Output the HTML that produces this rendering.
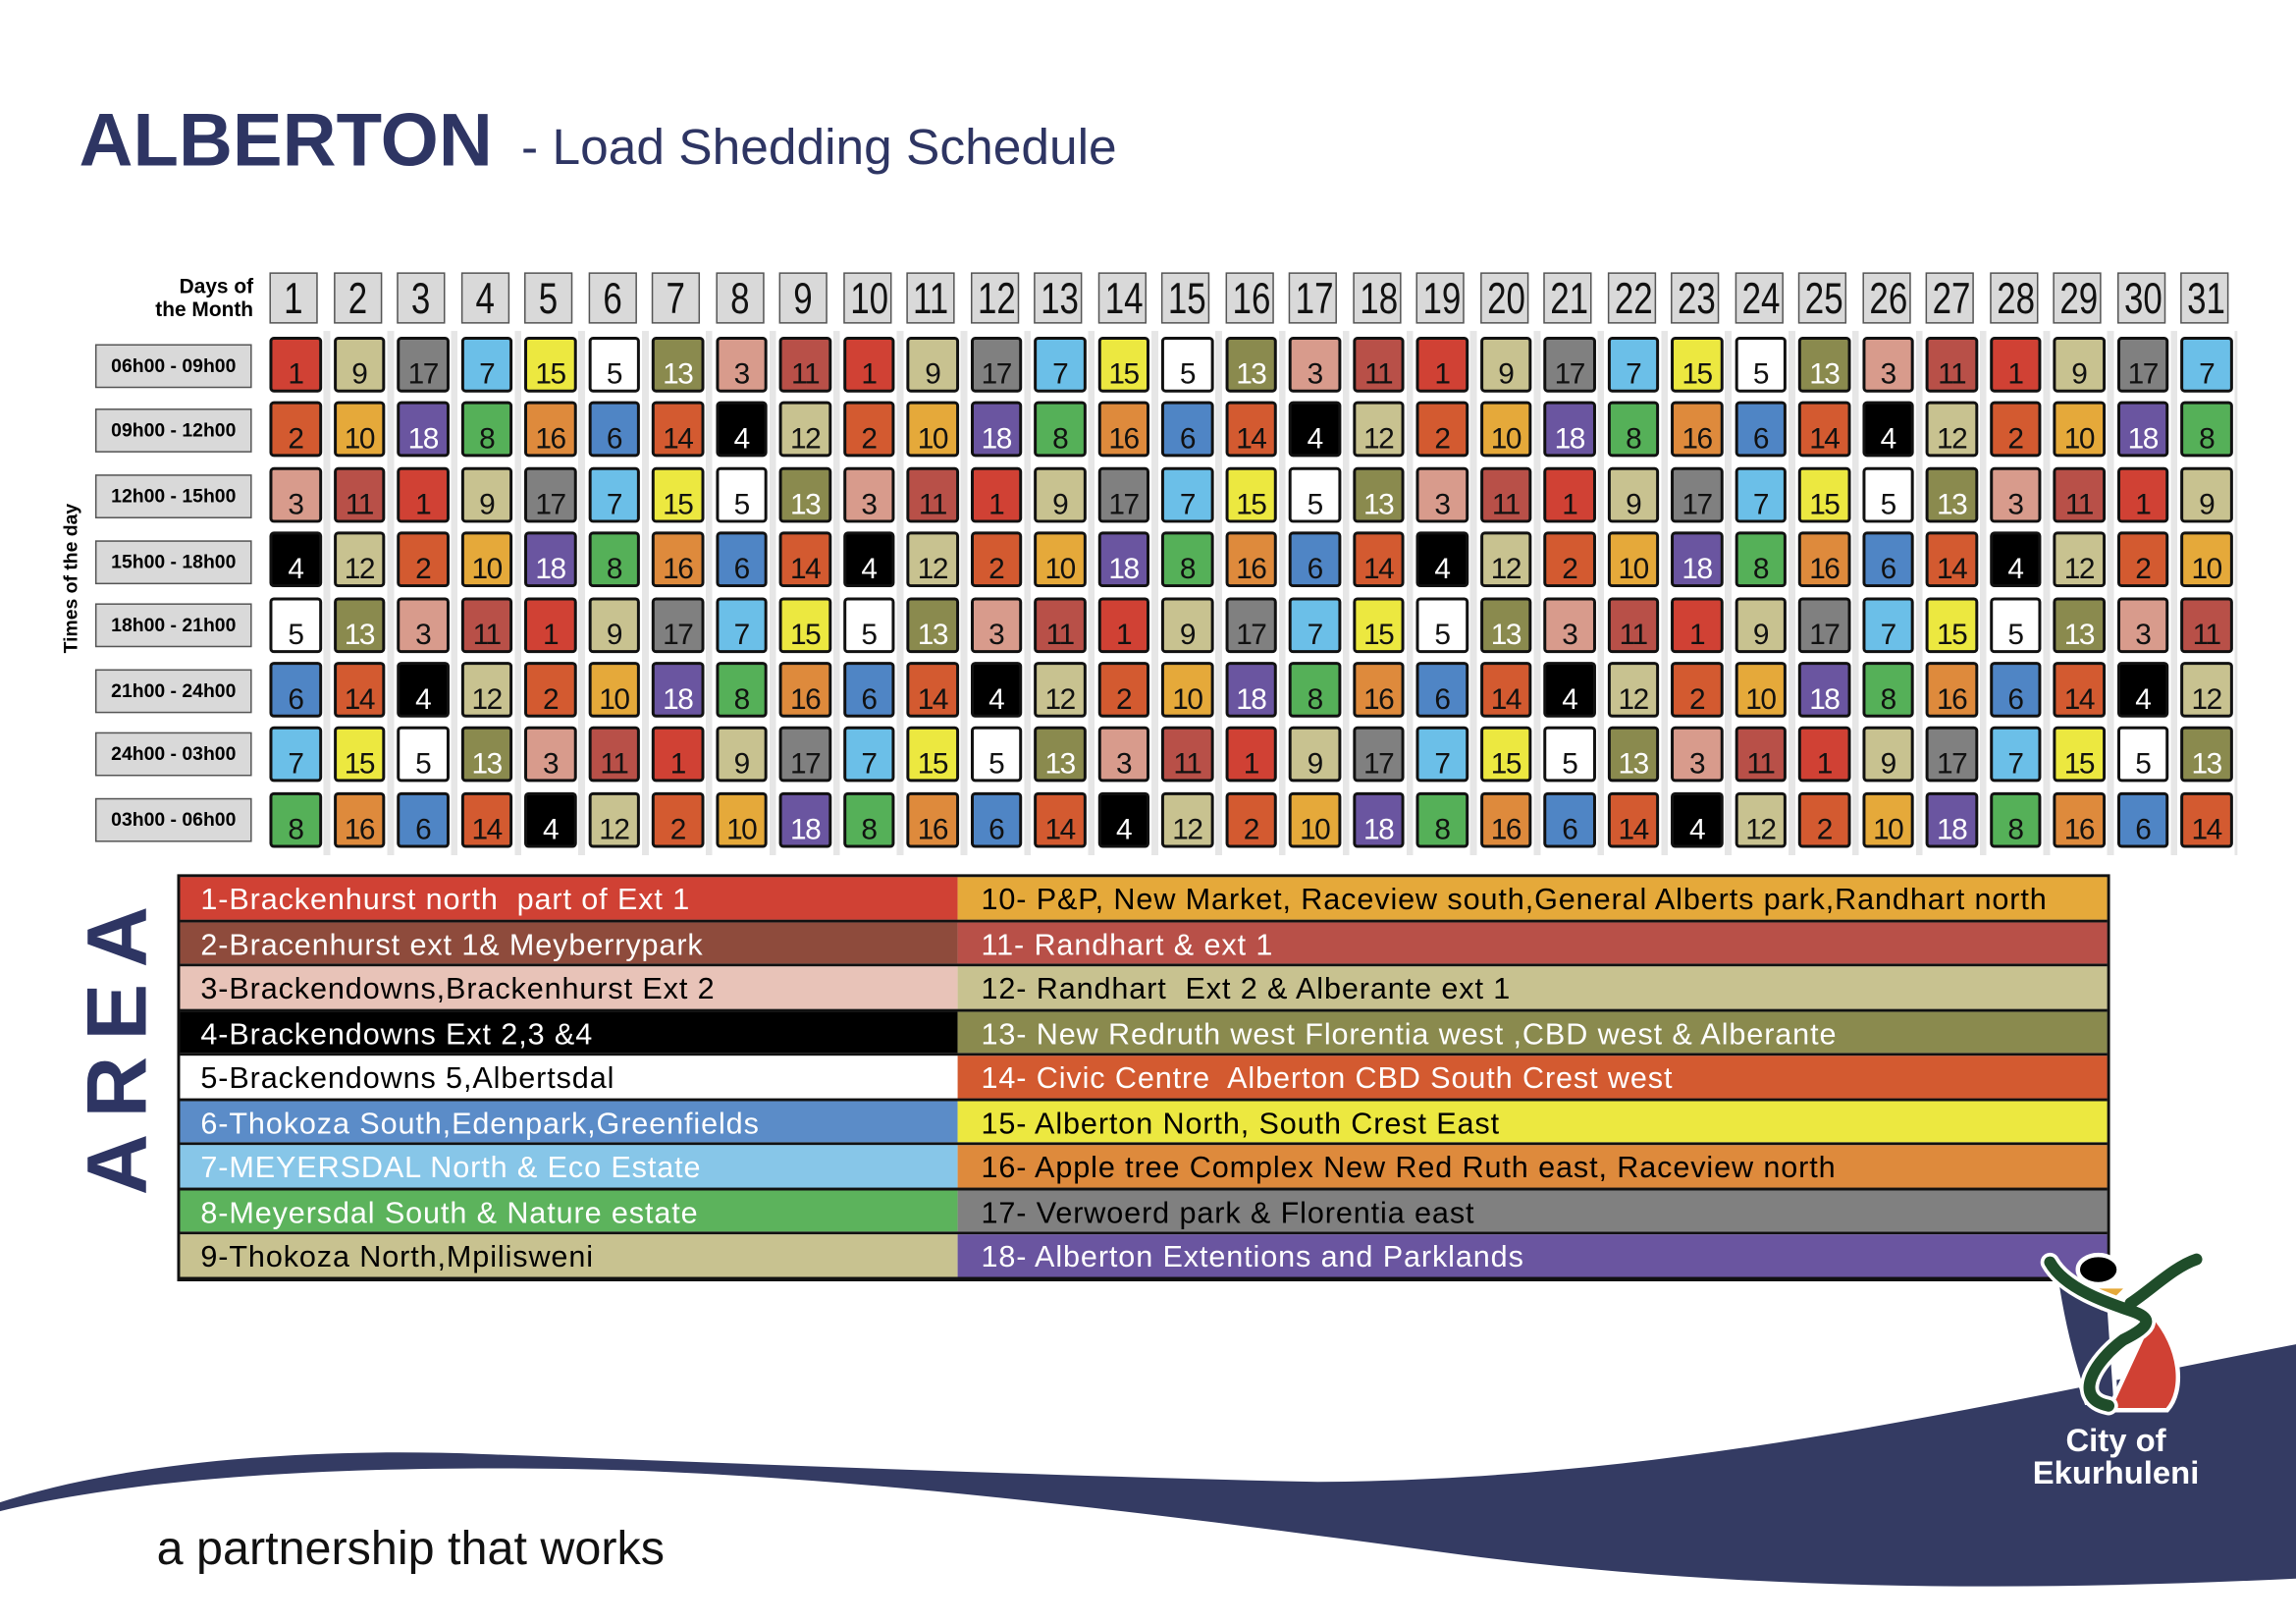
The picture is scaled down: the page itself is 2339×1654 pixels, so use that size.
<!DOCTYPE html>
<html><head><meta charset="utf-8"><style>
html,body{margin:0;padding:0;background:#fff;width:2339px;height:1654px;overflow:hidden}
#w{position:absolute;left:0;top:0;width:1568px;height:1109px;transform:scale(1.49171,1.4914);transform-origin:0 0;font-family:"Liberation Sans",sans-serif}
.abs{position:absolute}
#t1{left:54px;top:66px;font-size:51px;font-weight:bold;color:#2e3563;letter-spacing:0px}
#t2{left:356px;top:82px;font-size:34.5px;color:#2e3563;white-space:nowrap}
.hdr{position:absolute;left:184px;top:186px;display:grid;grid-template-columns:repeat(31,33px);column-gap:10.5px}
.hdr span{height:35px;background:#d9d9d9;border:1px solid #555;box-sizing:border-box;font-size:30px;text-align:center;line-height:35px;color:#111;overflow:hidden;white-space:nowrap}
.hdr span i{display:inline-block;font-style:normal;transform:scaleX(0.78)}
#dm{left:70px;top:187px;width:103px;text-align:right;font-size:14px;font-weight:bold;line-height:16px}
.grid{position:absolute;left:182px;top:226px;width:1346px;height:358px;background:
 repeating-linear-gradient(90deg,transparent 0 39px,#e6e6e6 39px 43.5px)}
.cells{position:absolute;left:184px;top:230px;display:grid;grid-template-columns:repeat(31,35.5px);column-gap:8px;grid-template-rows:repeat(8,38px);row-gap:6.4px}
.cells b{border:2px solid #111;border-radius:3px;box-sizing:border-box;font-weight:normal;font-size:20px;text-align:center;padding-top:13px;line-height:22px;color:#111;letter-spacing:-1px}
.c1{background:#d04134}.c2{background:#d35a30}.c3{background:#d89b8c}.c4{background:#000;color:#fff!important}.c5{background:#fff}
.c6{background:#4f85c5}.c7{background:#6bbfe8}.c8{background:#55b058}.c9{background:#c8c290}.c10{background:#e5a93a}
.c11{background:#b85048}.c12{background:#c8c290}.c13{background:#8a8a4e;color:#fff!important}.c14{background:#d35a30}.c15{background:#ece840}
.c16{background:#de8a3c}.c17{background:#808080}.c18{background:#6a55a0;color:#fff!important}
.rl{position:absolute;left:65px;width:107px;height:30px;background:#d9d9d9;border:1px solid #555;box-sizing:border-box;font-size:13px;font-weight:bold;text-align:center;line-height:28px}
#tod{left:48px;top:395px;transform:translate(-50%,-50%) rotate(-90deg);font-size:13px;font-weight:bold;white-space:nowrap}
#area{left:80px;top:712px;transform:translate(-50%,-50%) rotate(-90deg);font-size:58px;font-weight:bold;color:#2e3563;letter-spacing:11px;white-space:nowrap}
.leg{position:absolute;left:121px;top:597px;width:1320px;border:2px solid #111;border-bottom:3px solid #111;box-sizing:border-box}
.lr{display:flex;height:28.5px;border-bottom:2.8px solid #111;font-size:20.5px;line-height:31px;letter-spacing:0.6px}
.lr:last-child{border-bottom:none}
.lr div{padding-left:14px;white-space:nowrap;overflow:hidden}
.lr div:first-child{width:517px}.lr div:last-child{flex:1;padding-left:16px}
.wt{color:#fff}
#pt{left:107px;top:1039px;font-size:32.5px;color:#111}
#city{left:1380px;top:973px;width:130px;text-align:center;color:#fff;font-weight:bold;font-size:22px;line-height:22px}
</style></head><body><div id="w">
<div id="t1" class="abs">ALBERTON</div>
<div id="t2" class="abs">- Load Shedding Schedule</div>
<div id="dm" class="abs">Days of<br>the Month</div>
<div class="hdr"><span><i>1</i></span><span><i>2</i></span><span><i>3</i></span><span><i>4</i></span><span><i>5</i></span><span><i>6</i></span><span><i>7</i></span><span><i>8</i></span><span><i>9</i></span><span><i>10</i></span><span><i>11</i></span><span><i>12</i></span><span><i>13</i></span><span><i>14</i></span><span><i>15</i></span><span><i>16</i></span><span><i>17</i></span><span><i>18</i></span><span><i>19</i></span><span><i>20</i></span><span><i>21</i></span><span><i>22</i></span><span><i>23</i></span><span><i>24</i></span><span><i>25</i></span><span><i>26</i></span><span><i>27</i></span><span><i>28</i></span><span><i>29</i></span><span><i>30</i></span><span><i>31</i></span></div>
<div id="tod" class="abs">Times of the day</div>
<div class="rl" style="top:235px">06h00 - 09h00</div>
<div class="rl" style="top:279px">09h00 - 12h00</div>
<div class="rl" style="top:324px">12h00 - 15h00</div>
<div class="rl" style="top:369px">15h00 - 18h00</div>
<div class="rl" style="top:412px">18h00 - 21h00</div>
<div class="rl" style="top:457px">21h00 - 24h00</div>
<div class="rl" style="top:500px">24h00 - 03h00</div>
<div class="rl" style="top:545px">03h00 - 06h00</div>
<div class="grid"></div>
<div class="cells">
<b class=c1>1</b><b class=c9>9</b><b class=c17>17</b><b class=c7>7</b><b class=c15>15</b><b class=c5>5</b><b class=c13>13</b><b class=c3>3</b><b class=c11>11</b><b class=c1>1</b><b class=c9>9</b><b class=c17>17</b><b class=c7>7</b><b class=c15>15</b><b class=c5>5</b><b class=c13>13</b><b class=c3>3</b><b class=c11>11</b><b class=c1>1</b><b class=c9>9</b><b class=c17>17</b><b class=c7>7</b><b class=c15>15</b><b class=c5>5</b><b class=c13>13</b><b class=c3>3</b><b class=c11>11</b><b class=c1>1</b><b class=c9>9</b><b class=c17>17</b><b class=c7>7</b>
<b class=c2>2</b><b class=c10>10</b><b class=c18>18</b><b class=c8>8</b><b class=c16>16</b><b class=c6>6</b><b class=c14>14</b><b class=c4>4</b><b class=c12>12</b><b class=c2>2</b><b class=c10>10</b><b class=c18>18</b><b class=c8>8</b><b class=c16>16</b><b class=c6>6</b><b class=c14>14</b><b class=c4>4</b><b class=c12>12</b><b class=c2>2</b><b class=c10>10</b><b class=c18>18</b><b class=c8>8</b><b class=c16>16</b><b class=c6>6</b><b class=c14>14</b><b class=c4>4</b><b class=c12>12</b><b class=c2>2</b><b class=c10>10</b><b class=c18>18</b><b class=c8>8</b>
<b class=c3>3</b><b class=c11>11</b><b class=c1>1</b><b class=c9>9</b><b class=c17>17</b><b class=c7>7</b><b class=c15>15</b><b class=c5>5</b><b class=c13>13</b><b class=c3>3</b><b class=c11>11</b><b class=c1>1</b><b class=c9>9</b><b class=c17>17</b><b class=c7>7</b><b class=c15>15</b><b class=c5>5</b><b class=c13>13</b><b class=c3>3</b><b class=c11>11</b><b class=c1>1</b><b class=c9>9</b><b class=c17>17</b><b class=c7>7</b><b class=c15>15</b><b class=c5>5</b><b class=c13>13</b><b class=c3>3</b><b class=c11>11</b><b class=c1>1</b><b class=c9>9</b>
<b class=c4>4</b><b class=c12>12</b><b class=c2>2</b><b class=c10>10</b><b class=c18>18</b><b class=c8>8</b><b class=c16>16</b><b class=c6>6</b><b class=c14>14</b><b class=c4>4</b><b class=c12>12</b><b class=c2>2</b><b class=c10>10</b><b class=c18>18</b><b class=c8>8</b><b class=c16>16</b><b class=c6>6</b><b class=c14>14</b><b class=c4>4</b><b class=c12>12</b><b class=c2>2</b><b class=c10>10</b><b class=c18>18</b><b class=c8>8</b><b class=c16>16</b><b class=c6>6</b><b class=c14>14</b><b class=c4>4</b><b class=c12>12</b><b class=c2>2</b><b class=c10>10</b>
<b class=c5>5</b><b class=c13>13</b><b class=c3>3</b><b class=c11>11</b><b class=c1>1</b><b class=c9>9</b><b class=c17>17</b><b class=c7>7</b><b class=c15>15</b><b class=c5>5</b><b class=c13>13</b><b class=c3>3</b><b class=c11>11</b><b class=c1>1</b><b class=c9>9</b><b class=c17>17</b><b class=c7>7</b><b class=c15>15</b><b class=c5>5</b><b class=c13>13</b><b class=c3>3</b><b class=c11>11</b><b class=c1>1</b><b class=c9>9</b><b class=c17>17</b><b class=c7>7</b><b class=c15>15</b><b class=c5>5</b><b class=c13>13</b><b class=c3>3</b><b class=c11>11</b>
<b class=c6>6</b><b class=c14>14</b><b class=c4>4</b><b class=c12>12</b><b class=c2>2</b><b class=c10>10</b><b class=c18>18</b><b class=c8>8</b><b class=c16>16</b><b class=c6>6</b><b class=c14>14</b><b class=c4>4</b><b class=c12>12</b><b class=c2>2</b><b class=c10>10</b><b class=c18>18</b><b class=c8>8</b><b class=c16>16</b><b class=c6>6</b><b class=c14>14</b><b class=c4>4</b><b class=c12>12</b><b class=c2>2</b><b class=c10>10</b><b class=c18>18</b><b class=c8>8</b><b class=c16>16</b><b class=c6>6</b><b class=c14>14</b><b class=c4>4</b><b class=c12>12</b>
<b class=c7>7</b><b class=c15>15</b><b class=c5>5</b><b class=c13>13</b><b class=c3>3</b><b class=c11>11</b><b class=c1>1</b><b class=c9>9</b><b class=c17>17</b><b class=c7>7</b><b class=c15>15</b><b class=c5>5</b><b class=c13>13</b><b class=c3>3</b><b class=c11>11</b><b class=c1>1</b><b class=c9>9</b><b class=c17>17</b><b class=c7>7</b><b class=c15>15</b><b class=c5>5</b><b class=c13>13</b><b class=c3>3</b><b class=c11>11</b><b class=c1>1</b><b class=c9>9</b><b class=c17>17</b><b class=c7>7</b><b class=c15>15</b><b class=c5>5</b><b class=c13>13</b>
<b class=c8>8</b><b class=c16>16</b><b class=c6>6</b><b class=c14>14</b><b class=c4>4</b><b class=c12>12</b><b class=c2>2</b><b class=c10>10</b><b class=c18>18</b><b class=c8>8</b><b class=c16>16</b><b class=c6>6</b><b class=c14>14</b><b class=c4>4</b><b class=c12>12</b><b class=c2>2</b><b class=c10>10</b><b class=c18>18</b><b class=c8>8</b><b class=c16>16</b><b class=c6>6</b><b class=c14>14</b><b class=c4>4</b><b class=c12>12</b><b class=c2>2</b><b class=c10>10</b><b class=c18>18</b><b class=c8>8</b><b class=c16>16</b><b class=c6>6</b><b class=c14>14</b>
</div>
<div id="area" class="abs">AREA</div>
<div class="leg">
<div class="lr"><div class="wt" style="background:#d04134">1-Brackenhurst north&nbsp; part of Ext 1</div><div style="background:#e5a93a">10- P&amp;P, New Market, Raceview south,General Alberts park,Randhart north</div></div>
<div class="lr"><div class="wt" style="background:#8e4b3c">2-Bracenhurst ext 1&amp; Meyberrypark</div><div class="wt" style="background:#b85048">11- Randhart &amp; ext 1</div></div>
<div class="lr"><div style="background:#e8c3b8">3-Brackendowns,Brackenhurst Ext 2</div><div style="background:#c8c290">12- Randhart&nbsp; Ext 2 &amp; Alberante ext 1</div></div>
<div class="lr"><div class="wt" style="background:#000">4-Brackendowns Ext 2,3 &amp;4</div><div class="wt" style="background:#8a8a4e">13- New Redruth west Florentia west ,CBD west &amp; Alberante</div></div>
<div class="lr"><div style="background:#fff">5-Brackendowns 5,Albertsdal</div><div class="wt" style="background:#d35a30">14- Civic Centre&nbsp; Alberton CBD South Crest west</div></div>
<div class="lr"><div class="wt" style="background:#5b8cc8">6-Thokoza South,Edenpark,Greenfields</div><div style="background:#ece840">15- Alberton North, South Crest East</div></div>
<div class="lr"><div class="wt" style="background:#87c6e8">7-MEYERSDAL North &amp; Eco Estate</div><div style="background:#de8a3c">16- Apple tree Complex New Red Ruth east, Raceview north</div></div>
<div class="lr"><div class="wt" style="background:#5cb35c">8-Meyersdal South &amp; Nature estate</div><div style="background:#808080">17- Verwoerd park &amp; Florentia east</div></div>
<div class="lr"><div style="background:#c8c290">9-Thokoza North,Mpilisweni</div><div class="wt" style="background:#6a55a0">18- Alberton Extentions and Parklands</div></div>
</div>
<svg class="abs" style="left:0;top:0" width="1568" height="1109" viewBox="0 0 1568 1109">
<path fill="#343b63" d="M0,1026 C80,1000 200,988 330,993 C520,1000 720,1008 900,1012 C1150,1010 1350,960 1568,918 L1568,1078 C1400,1086 1200,1088 1000,1062 C780,1032 560,1005 380,1003 C220,1001 90,1010 0,1032 Z"/>
<g stroke="#fff" stroke-width="3">
<path fill="#343b63" d="M1404,872 L1440,885 L1445,958 L1425,958 C1415,930 1408,900 1404,872 Z"/>
<path fill="#d04134" d="M1470,898 C1490,920 1492,950 1480,963 L1440,963 Z"/>
</g>
<ellipse cx="1433" cy="867" rx="14" ry="10" fill="#000" stroke="#fff" stroke-width="3"/>
<path d="M1420,880 L1450,880 L1435,895 Z" fill="#e5a93a"/>
<path fill="none" stroke="#fff" stroke-width="13" stroke-linecap="round" d="M1400,862 C1410,880 1440,890 1455,895 C1470,900 1470,905 1450,915 C1430,930 1415,955 1440,960 M1455,890 C1470,880 1485,865 1500,860"/>
<path fill="none" stroke="#1f4d2a" stroke-width="8" stroke-linecap="round" d="M1400,862 C1410,880 1440,890 1455,895 C1470,900 1470,905 1450,915 C1430,930 1415,955 1440,960 M1455,890 C1470,880 1485,865 1500,860"/>
</svg>
<div id="city" class="abs">City of<br>Ekurhuleni</div>
<div id="pt" class="abs">a partnership that works</div>
</div></body></html>
